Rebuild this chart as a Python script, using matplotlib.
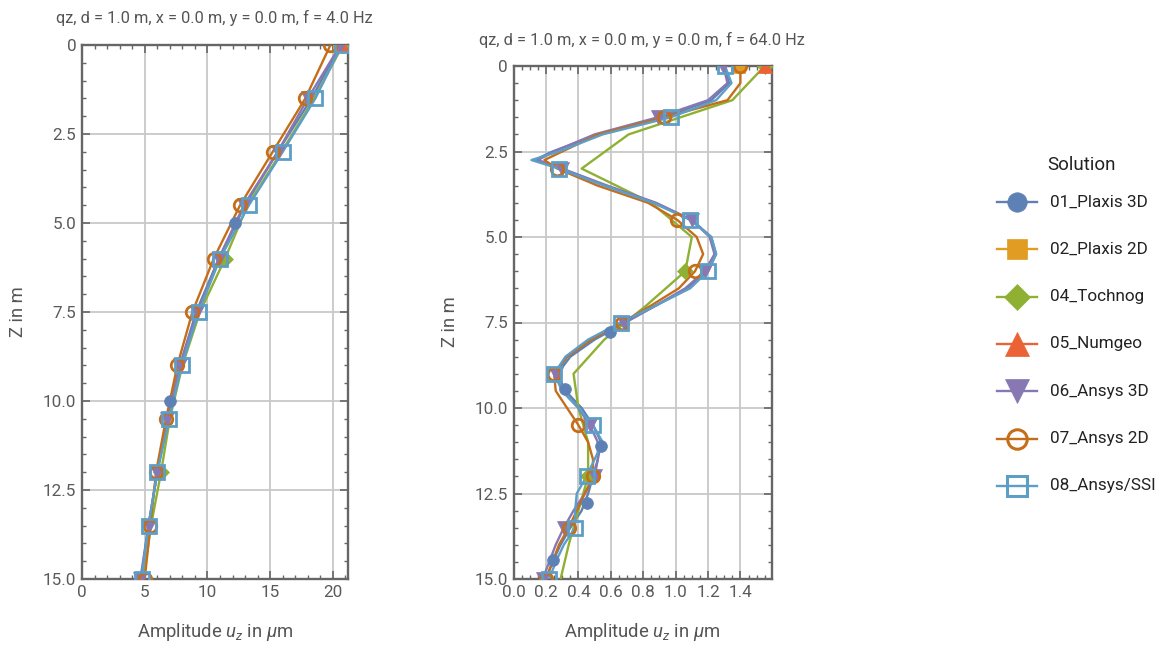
import numpy as np
import matplotlib
matplotlib.use("Agg")
import matplotlib.pyplot as plt
from matplotlib.lines import Line2D
from matplotlib.ticker import MultipleLocator, FuncFormatter

plt.rcParams['font.family'] = ['Roboto', 'DejaVu Sans']
plt.rcParams['mathtext.fontset'] = 'custom'
plt.rcParams['mathtext.rm'] = 'Roboto'
plt.rcParams['mathtext.it'] = 'Roboto:italic'

# ---------------- data ----------------
series_names = ["01_Plaxis 3D", "02_Plaxis 2D", "04_Tochnog", "05_Numgeo",
                "06_Ansys 3D", "07_Ansys 2D", "08_Ansys/SSI"]

# Left panel: f = 4.0 Hz
z_left = [0, 1.5, 3, 4.5, 6, 7.5, 9, 10.5, 12, 13.5, 15]
plaxis3d_left = [20.6, 18.3, 15.6, 13.0, 10.9, 9.1, 7.8, 6.8, 6.0, 5.3, 4.7]
plaxis3d_left_mz = [5, 10]
plaxis3d_left_mv = [12.2, 7.05]
plaxis2d_left_z = [0]
plaxis2d_left = [20.6]
tochnog_left = [20.8, 18.5, 15.9, 13.2, 11.4, 9.4, 8.0, 7.0, 6.3, 5.5, 4.9]
tochnog_left_mz = [0, 6, 12]
numgeo_left_z = [0]
numgeo_left = [20.7]
ansys3d_left = [20.6, 18.0, 15.6, 12.9, 10.9, 9.2, 7.8, 6.75, 6.0, 5.3, 4.65]
ansys2d_left = [19.8, 17.8, 15.2, 12.6, 10.5, 8.8, 7.6, 6.7, 5.9, 5.45, 5.0]
ssi_left = [20.7, 18.6, 16.0, 13.3, 11.0, 9.3, 7.95, 6.95, 6.0, 5.3, 4.75]

# Right panel: f = 64.0 Hz
z_right = [0, 0.5, 1, 1.5, 2, 2.5, 2.75, 3, 3.5, 4, 4.5, 5, 5.5, 6, 6.5, 7,
           7.5, 8, 8.5, 9, 9.5, 10, 10.5, 11, 11.5, 12, 12.5, 13, 13.5, 14, 14.5, 15]
plaxis3d_right = [1.30, 1.33, 1.22, 0.92, 0.52, 0.24, 0.13, 0.29, 0.57, 0.87, 1.10, 1.22,
                  1.25, 1.20, 1.07, 0.88, 0.69, 0.50, 0.35, 0.27, 0.32, 0.42, 0.49, 0.54,
                  0.52, 0.49, 0.46, 0.42, 0.35, 0.29, 0.24, 0.20]
plaxis3d_right_mz = [7.78, 9.44, 11.11, 12.78, 14.44]
plaxis3d_right_mv = [0.595, 0.317, 0.54, 0.45, 0.245]
plaxis2d_right_z = [0]
plaxis2d_right = [1.387]
tochnog_right_z = [0, 1, 2, 3, 4, 5, 6, 7, 8, 9, 10, 11, 12, 13, 14, 15]
tochnog_right = [1.55, 1.35, 0.71, 0.42, 0.85, 1.10, 1.06, 0.82, 0.56, 0.37,
                 0.40, 0.46, 0.46, 0.40, 0.34, 0.29]
tochnog_right_mz = [0, 6, 12]
numgeo_right_z = [0]
numgeo_right = [1.55]
ansys3d_right = [1.295, 1.32, 1.20, 0.89, 0.50, 0.25, 0.15, 0.30, 0.58, 0.88, 1.10, 1.21,
                 1.24, 1.18, 1.06, 0.88, 0.68, 0.48, 0.33, 0.26, 0.30, 0.40, 0.47, 0.52,
                 0.52, 0.50, 0.44, 0.37, 0.31, 0.26, 0.22, 0.18]
ansys2d_right = [1.40, 1.40, 1.32, 0.93, 0.52, 0.30, 0.19, 0.27, 0.52, 0.83, 1.01, 1.13,
                 1.17, 1.12, 1.02, 0.85, 0.67, 0.48, 0.33, 0.25, 0.26, 0.33, 0.40, 0.46,
                 0.49, 0.49, 0.44, 0.39, 0.34, 0.28, 0.24, 0.20]
ssi_right = [1.305, 1.345, 1.25, 0.97, 0.55, 0.28, 0.11, 0.28, 0.56, 0.86, 1.09, 1.22,
             1.25, 1.20, 1.09, 0.88, 0.66, 0.46, 0.32, 0.25, 0.30, 0.40, 0.49, 0.55,
             0.50, 0.45, 0.39, 0.38, 0.38, 0.31, 0.26, 0.22]
ansys_marker_z = [0, 1.5, 3, 4.5, 6, 7.5, 9, 10.5, 12, 13.5, 15]

# ---------------- styles ----------------
colors = {"01_Plaxis 3D": "#5E81B5", "02_Plaxis 2D": "#E19C24", "04_Tochnog": "#8FB032",
          "05_Numgeo": "#EB6235", "06_Ansys 3D": "#8778B3", "07_Ansys 2D": "#C56E1A",
          "08_Ansys/SSI": "#5D9EC7"}
markers = {"01_Plaxis 3D": ("o", True, 8.5), "02_Plaxis 2D": ("s", True, 9.5),
           "04_Tochnog": ("D", True, 8), "05_Numgeo": ("^", True, 10),
           "06_Ansys 3D": ("v", True, 10), "07_Ansys 2D": ("o", False, 9),
           "08_Ansys/SSI": ("s", False, 9.5)}

W, H = 1167, 645
fig = plt.figure(figsize=(W / 100, H / 100), dpi=100)

def fx(px):
    return px / W

def fy(py):
    return 1 - py / H

axL = fig.add_axes([fx(82), fy(579), fx(348) - fx(82), fy(45) - fy(579)])
axR = fig.add_axes([fx(513.6), fy(579), fx(772) - fx(513.6), fy(66) - fy(579)])

LW = 1.7

def draw(ax, name, z, v, mz=None, mv=None):
    c = colors[name]
    m, filled, ms = markers[name]
    z = np.asarray(z, float)
    v = np.asarray(v, float)
    ax.plot(v, z, color=c, lw=LW, zorder=3, solid_joinstyle='round')
    if mz is None:
        mz, mv = z, v
    mz = np.asarray(mz, float)
    mv = np.asarray(mv, float)
    ax.plot(mv, mz, ls='none', marker=m, ms=ms,
            mfc=c if filled else 'none', mec=c, mew=2.0 if not filled else 0.5, zorder=4)

def sel(z, v, zs):
    z = np.asarray(z, float)
    v = np.asarray(v, float)
    idx = [int(np.argmin(np.abs(z - q))) for q in zs]
    return z[idx], v[idx]

# Left
draw(axL, "01_Plaxis 3D", z_left, plaxis3d_left, plaxis3d_left_mz, plaxis3d_left_mv)
draw(axL, "02_Plaxis 2D", plaxis2d_left_z, plaxis2d_left)
mz, mv = sel(z_left, tochnog_left, tochnog_left_mz)
draw(axL, "04_Tochnog", z_left, tochnog_left, mz, mv)
draw(axL, "05_Numgeo", numgeo_left_z, numgeo_left)
draw(axL, "06_Ansys 3D", z_left, ansys3d_left)
draw(axL, "07_Ansys 2D", z_left, ansys2d_left)
draw(axL, "08_Ansys/SSI", z_left, ssi_left)

# Right
draw(axR, "01_Plaxis 3D", z_right, plaxis3d_right, plaxis3d_right_mz, plaxis3d_right_mv)
draw(axR, "02_Plaxis 2D", plaxis2d_right_z, plaxis2d_right)
mz, mv = sel(tochnog_right_z, tochnog_right, tochnog_right_mz)
draw(axR, "04_Tochnog", tochnog_right_z, tochnog_right, mz, mv)
draw(axR, "05_Numgeo", numgeo_right_z, numgeo_right)
for name, vals in [("06_Ansys 3D", ansys3d_right), ("07_Ansys 2D", ansys2d_right),
                   ("08_Ansys/SSI", ssi_right)]:
    mz, mv = sel(z_right, vals, ansys_marker_z)
    draw(axR, name, z_right, vals, mz, mv)

frame_c = "#666666"
tick_c = "#5a5a5a"

def yfmt(v, p):
    return "0" if abs(v) < 1e-9 else f"{v:.1f}"

def style(ax, xmax, xmaj, xmin, xfmt):
    ax.set_xlim(0, xmax)
    ax.set_ylim(15, 0)
    ax.xaxis.set_major_locator(MultipleLocator(xmaj))
    ax.xaxis.set_minor_locator(MultipleLocator(xmin))
    ax.yaxis.set_major_locator(MultipleLocator(2.5))
    ax.yaxis.set_minor_locator(MultipleLocator(0.5))
    ax.xaxis.set_major_formatter(FuncFormatter(xfmt))
    ax.yaxis.set_major_formatter(FuncFormatter(yfmt))
    ax.grid(True, which='major', color="#c8c8c8", lw=1.3, zorder=0)
    ax.set_axisbelow(True)
    for s in ax.spines.values():
        s.set_color(frame_c)
        s.set_linewidth(1.7)
    ax.tick_params(which='both', direction='in', top=True, right=True,
                   color=frame_c, labelcolor=tick_c, labelsize=12.3, pad=4)
    ax.tick_params(which='major', length=6, width=1.2)
    ax.tick_params(which='minor', length=3, width=1.0)

style(axL, 21.2, 5, 1, lambda v, p: f"{v:.0f}")
style(axR, 1.595, 0.2, 0.05, lambda v, p: f"{v:.1f}")

title_c = "#555555"
fig.text(fx(214), fy(18), "qz, d = 1.0 m, x = 0.0 m, y = 0.0 m, f = 4.0 Hz",
         ha='center', va='center', fontsize=11.8, color=title_c)
fig.text(fx(642), fy(40), "qz, d = 1.0 m, x = 0.0 m, y = 0.0 m, f = 64.0 Hz",
         ha='center', va='center', fontsize=11.8, color=title_c)
for x in (215, 642):
    fig.text(fx(x), fy(632), r"Amplitude $u_z$ in $\mu$m", ha='center', va='center',
             fontsize=13.3, color=title_c)
fig.text(fx(18), fy(312), "Z in m", rotation=90, ha='center', va='center',
         fontsize=13.2, color=title_c)
fig.text(fx(450), fy(322), "Z in m", rotation=90, ha='center', va='center',
         fontsize=13.2, color=title_c)

# legend
fig.text(fx(1081), fy(165), "Solution", ha='center', va='center', fontsize=13.5, color="#222222")
leg_ms = {"o": 14, "s": 15, "D": 13, "^": 17, "v": 17}
for i, name in enumerate(series_names):
    y = 202 + 47.3 * i
    c = colors[name]
    m, filled, _ = markers[name]
    fig.add_artist(Line2D([fx(997), fx(1037)], [fy(y), fy(y)], color=c, lw=LW))
    fig.add_artist(Line2D([fx(1017)], [fy(y)], ls='none', marker=m, ms=leg_ms[m],
                          mfc=c if filled else 'none', mec=c,
                          mew=2.2 if not filled else 0.5))
    fig.text(fx(1050), fy(y), name, ha='left', va='center', fontsize=12.3, color="#222222")

fig.savefig("out.png", dpi=100)
